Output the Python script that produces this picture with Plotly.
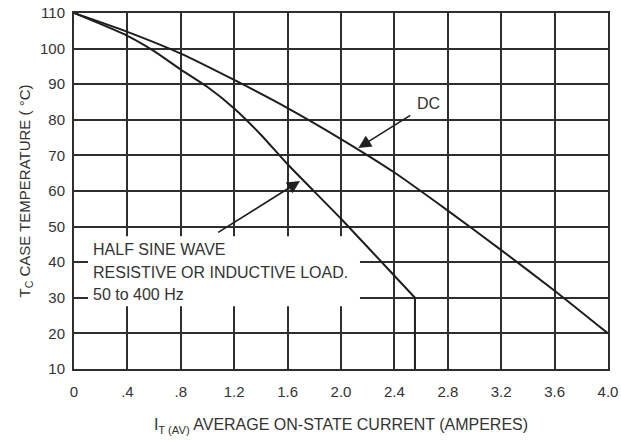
import plotly.graph_objects as go

# Data
dc_x = [0, 0.4, 0.8, 1.2, 1.6, 2.0, 2.4, 2.8, 3.2, 3.6, 4.0]
dc_y = [110, 104.7, 98.6, 91.2, 83.3, 74.6, 65.2, 54.5, 43.4, 32, 20]

hs_x = [0, 0.4, 0.6, 0.8, 1.0, 1.2, 1.4, 1.6, 2.0, 2.4, 2.554]
hs_y = [110, 103.6, 99.3, 94.1, 89.2, 83.2, 75.8, 67.5, 52.2, 36.2, 30]

drop_x = [2.554, 2.554]
drop_y = [30, 10]

x_ticks = [0, 0.4, 0.8, 1.2, 1.6, 2.0, 2.4, 2.8, 3.2, 3.6, 4.0]
x_tick_labels = ["0", ".4", ".8", "1.2", "1.6", "2.0", "2.4", "2.8", "3.2", "3.6", "4.0"]
y_ticks = [10, 20, 30, 40, 50, 60, 70, 80, 90, 100, 110]

note_lines = ["HALF SINE WAVE", "RESISTIVE OR INDUCTIVE LOAD.", "50 to 400 Hz"]
note_y = [43.5, 37.0, 30.9]

FONT = "Liberation Sans, Arial, sans-serif"
LINE = "#1e1e1e"
GRID = "#2e2e2e"
TXT = "#333333"

fig = go.Figure()
fig.add_trace(go.Scatter(x=dc_x, y=dc_y, mode="lines", line_shape="spline",
                         line=dict(color=LINE, width=2, smoothing=0.6),
                         showlegend=False, hoverinfo="skip"))
fig.add_trace(go.Scatter(x=hs_x, y=hs_y, mode="lines", line_shape="spline",
                         line=dict(color=LINE, width=2, smoothing=0.6),
                         showlegend=False, hoverinfo="skip"))
fig.add_trace(go.Scatter(x=drop_x, y=drop_y, mode="lines",
                         line=dict(color=LINE, width=2), showlegend=False, hoverinfo="skip"))

# white box that interrupts the grid behind the note
fig.add_shape(type="rect", x0=0.105, x1=2.142, y0=27.6, y1=47.3,
              fillcolor="white", line=dict(width=0), layer="between")

for txt, yy in zip(note_lines, note_y):
    fig.add_annotation(x=0.125, y=yy, xref="x", yref="y", text=txt, showarrow=False,
                       xanchor="left", yanchor="middle",
                       font=dict(family=FONT, size=16, color=TXT))

# DC label and arrow
fig.add_annotation(x=2.652, y=84.6, text="DC", showarrow=False,
                   font=dict(family=FONT, size=16, color=TXT))
fig.add_annotation(x=2.13, y=72.1, ax=2.53, ay=81.5, axref="x", ayref="y",
                   text="", showarrow=True, arrowhead=2, arrowsize=1.6, arrowwidth=1.6,
                   arrowcolor=LINE)
# half sine arrow
fig.add_annotation(x=1.693, y=62.8, ax=1.069, ay=48.1, axref="x", ayref="y",
                   text="", showarrow=True, arrowhead=2, arrowsize=1.6, arrowwidth=1.6,
                   arrowcolor=LINE)

fig.update_layout(
    width=621, height=441,
    margin=dict(l=74, r=13, t=13, b=72),
    paper_bgcolor="white", plot_bgcolor="white",
    font=dict(family=FONT, size=16, color=TXT),
    xaxis=dict(range=[0, 4.0], tickvals=x_ticks, ticktext=x_tick_labels, automargin=False,
               showgrid=True, gridcolor=GRID, gridwidth=2, zeroline=False,
               showline=True, linecolor=GRID, linewidth=2, mirror=True,
               ticks="outside", ticklen=8, tickcolor="rgba(0,0,0,0)",
               tickfont=dict(size=15, color=TXT),
               title=dict(text="I<sub>T (AV)</sub> AVERAGE ON-STATE CURRENT (AMPERES)",
                          font=dict(size=16, color=TXT), standoff=20)),
    yaxis=dict(range=[10, 110], tickvals=y_ticks, automargin=False,
               showgrid=True, gridcolor=GRID, gridwidth=2, zeroline=False,
               showline=True, linecolor=GRID, linewidth=2, mirror=True,
               ticks="outside", ticklen=4, tickcolor="rgba(0,0,0,0)",
               tickfont=dict(size=15, color=TXT),
               title=dict(text="T<sub>C</sub> CASE TEMPERATURE ( °C)",
                          font=dict(size=15, color=TXT), standoff=6)),
)

fig.write_html("out.html", config={"displayModeBar": False},
               post_script="document.body.style.margin='0';document.body.style.overflow='hidden';")
